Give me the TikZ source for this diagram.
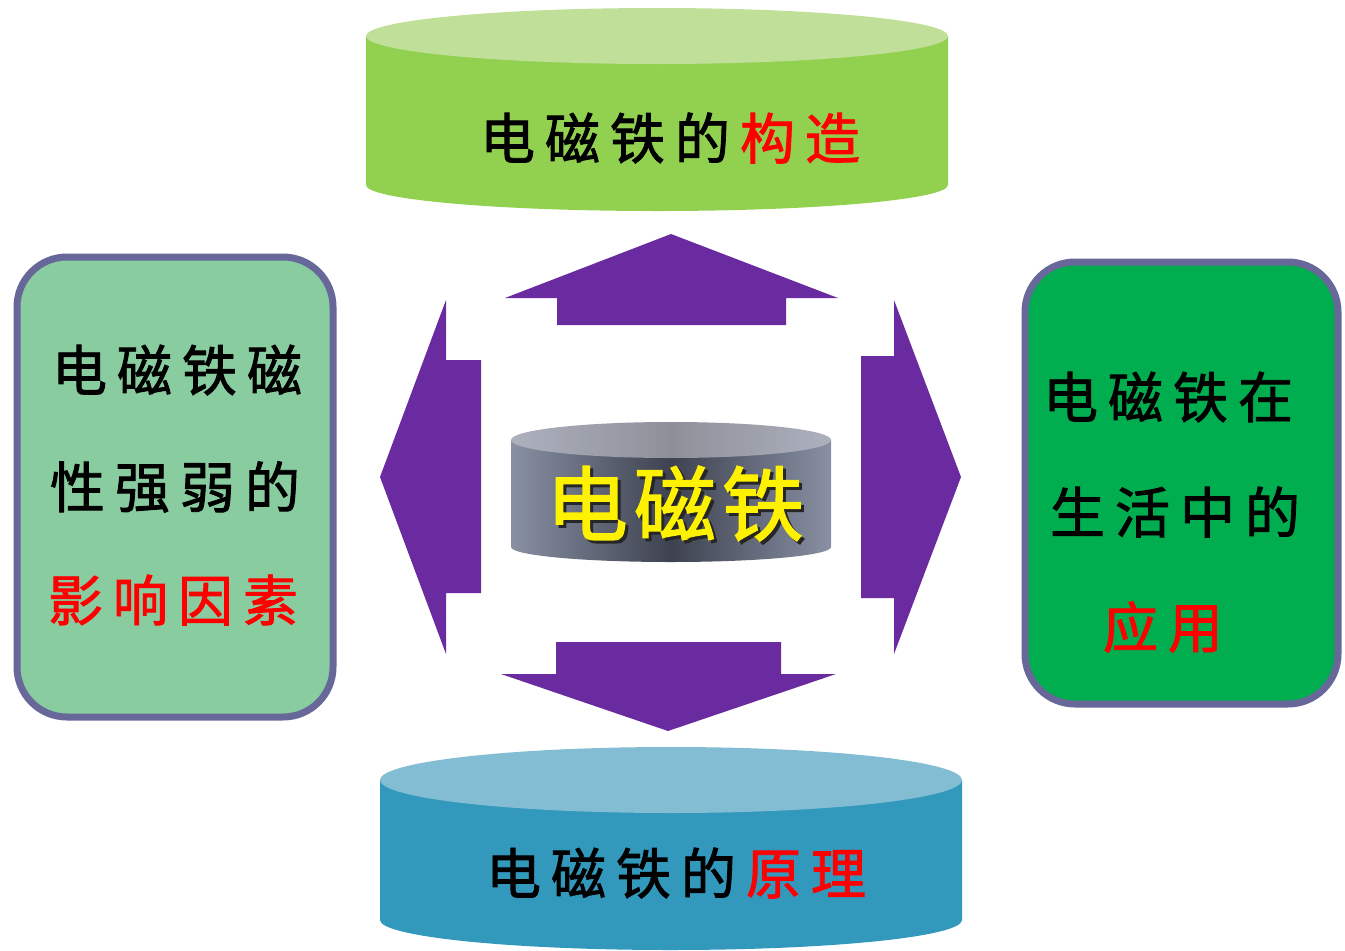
\documentclass[tikz,border=0pt]{standalone}
\usepackage{fontspec}
\setmainfont{Noto Sans CJK SC}
\newfontfamily\cjk[FakeBold=1.6]{Noto Sans CJK SC}
\definecolor{topgreen}{HTML}{92D050}
\definecolor{topgreenlt}{HTML}{C0E09A}
\definecolor{botblue}{HTML}{3399BC}
\definecolor{botbluelt}{HTML}{83BDD3}
\definecolor{arrpurple}{HTML}{6A2AA0}
\definecolor{leftfill}{HTML}{88CCA0}
\definecolor{rightfill}{HTML}{00AD4F}
\definecolor{boxborder}{HTML}{676899}
\definecolor{grayedge}{HTML}{8890A3}
\definecolor{graydark}{HTML}{3E4250}
\definecolor{graytopedge}{HTML}{ADB1BE}
\definecolor{graytopmid}{HTML}{8E9099}
\newcommand{\gk}{\kern10pt}
\newcommand{\gkb}{\kern6pt}
\newcommand{\ctrword}{电\gkb 磁\gkb 铁}
\tikzset{
  lbl/.style={inner sep=0pt, font=\cjk\fontsize{55pt}{60pt}\selectfont, text=black},
  big/.style={inner sep=0pt, font=\cjk\fontsize{82pt}{86pt}\selectfont},
  rbox/.style={draw=boxborder, line width=7pt, rounded corners=50pt},
  blockarrow/.style={fill=arrpurple}
}
\begin{document}
\begin{tikzpicture}[x=1pt,y=-1pt]
\useasboundingbox (0,0) rectangle (1345,951);
% ---------- top cylinder ----------
\fill[topgreen] (366,36) -- (366,185) arc[start angle=180, end angle=0, x radius=291, y radius=26] -- (948,36) -- cycle;
\fill[topgreenlt] (657,36) ellipse[x radius=291, y radius=28];
\node[lbl] (topt) at (670,138) {电\gk 磁\gk 铁\gk 的\gk \textcolor{red}{构\gk 造}};
% ---------- bottom cylinder ----------
\fill[botblue] (380,780) -- (380,920) arc[start angle=180, end angle=0, x radius=291, y radius=30] -- (962,780) -- cycle;
\fill[botbluelt] (671,780) ellipse[x radius=291, y radius=33];
\node[lbl] (bott) at (676,873) {电\gk 磁\gk 铁\gk 的\gk \textcolor{red}{原\gk 理}};
% ---------- left box ----------
\draw[rbox, fill=leftfill] (17,257) rectangle (333,717);
\node[lbl] (l1) at (177,370) {电\gk 磁\gk 铁\gk 磁};
\node[lbl] (l2) at (175,487) {性\gk 强\gk 弱\gk 的};
\node[lbl, text=red] (l3) at (173,600) {影\gk 响\gk 因\gk 素};
% ---------- right box ----------
\draw[rbox, fill=rightfill] (1025,262) rectangle (1338,704);
\node[lbl] (r1) at (1168,397) {电\gk 磁\gk 铁\gk 在};
\node[lbl] (r2) at (1175,512) {生\gk 活\gk 中\gk 的};
\node[lbl, text=red] (r3) at (1163,627) {应\gk 用};
% ---------- block arrows ----------
\fill[blockarrow] (671,234) -- (838,298) -- (786,298) -- (786,325) -- (557,325) -- (557,298) -- (505,298) -- cycle;
\fill[blockarrow] (668,731) -- (836,674) -- (781,674) -- (781,642) -- (556,642) -- (556,674) -- (501,674) -- cycle;
\fill[blockarrow] (380,477) -- (446,300) -- (446,360) -- (481,360) -- (481,593) -- (446,593) -- (446,654) -- cycle;
\fill[blockarrow] (961,477) -- (894,300) -- (894,356) -- (861,356) -- (861,598) -- (894,598) -- (894,654) -- cycle;
% ---------- center gray cylinder ----------
\shade[left color=grayedge, right color=grayedge, middle color=graydark, shading angle=90]
  (511,440) -- (511,547) arc[start angle=180, end angle=0, x radius=160, y radius=15] -- (831,440) -- cycle;
\shade[left color=graytopedge, right color=graytopedge, middle color=graytopmid]
  (671,440) ellipse[x radius=160, y radius=18];
\node[big] (ctr) at (675,505) {\rlap{\kern3pt\raisebox{-3pt}{\textcolor{black!85}{\ctrword}}}\textcolor{yellow}{\ctrword}};
\end{tikzpicture}
\end{document}
